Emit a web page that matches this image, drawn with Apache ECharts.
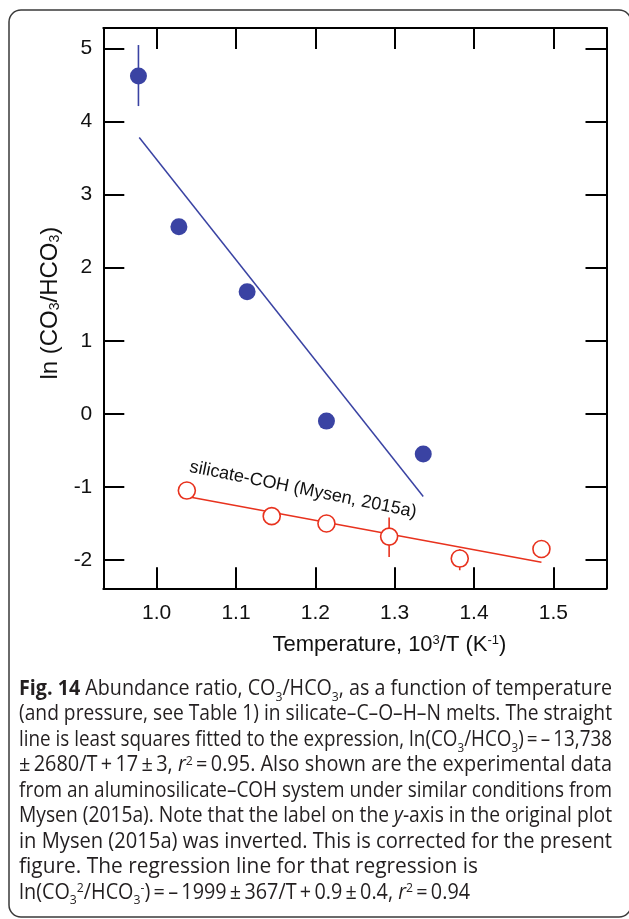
<!DOCTYPE html>
<html>
<head>
<meta charset="utf-8">
<script src="https://cdn.jsdelivr.net/npm/echarts@6/dist/echarts.min.js"></script>
<style>
  html, body { margin: 0; padding: 0; background: #fff; }
  #chart { width: 629px; height: 919px; }
</style>
</head>
<body>
<div id="chart"></div>
<script>
// silicate–C–O–H–N melts: ln(CO3/HCO3) against 10^3/T
const meltX = [0.977, 1.028, 1.114, 1.214, 1.336];
const meltY = [4.62, 2.56, 1.67, -0.10, -0.55];
const meltErrX = [0.977];
const meltErrLow = [4.21];
const meltErrHigh = [5.045];
const meltFitX = [0.978, 1.336];
const meltFitY = [3.78, -1.13];

// aluminosilicate–COH (Mysen, 2015a)
const cohX = [1.038, 1.145, 1.214, 1.293, 1.382, 1.485];
const cohY = [-1.05, -1.40, -1.50, -1.68, -1.98, -1.85];
const cohErrX = [1.293, 1.382];
const cohErrLow = [-1.96, -2.14];
const cohErrHigh = [-1.42, -1.85];
const cohFitX = [1.038, 1.485];
const cohFitY = [-1.13, -2.03];

// axis ranges and tick labels
const xRange = [0.9327, 1.567];
const yRange = [-2.387, 5.278];
const xTicks = [1.0, 1.1, 1.2, 1.3, 1.4, 1.5];
const yTicks = [-2, -1, 0, 1, 2, 3, 4, 5];

// caption: [text, justified, width of a ragged line]
const captionLines = [
  ['{b|Fig. 14} Abundance ratio, CO{d|3}/HCO{d|3}, as a function of temperature', true],
  ['(and pressure, see Table 1) in silicate–C–O–H–N melts. The straight', true],
  ['line is least squares fitted to the expression, ln(CO{d|3}/HCO{d|3})\u2009=\u2009–\u200913,738', true],
  ['±\u20092680/T\u2009+\u200917\u2009±\u20093, {i|r}{u|2}\u2009=\u20090.95. Also shown are the experimental data', true],
  ['from an aluminosilicate–COH system under similar conditions from', true],
  ['Mysen (2015a). Note that the label on the {i|y}-axis in the original plot', true],
  ['in Mysen (2015a) was inverted. This is corrected for the present', true],
  ['figure. The regression line for that regression is', false, 459],
  ['ln(CO{d|3}{u|2}/HCO{d|3}{u|-})\u2009=\u2009–\u20091999\u2009±\u2009367/T\u2009+\u20090.9\u2009±\u20090.4, {i|r}{u|2}\u2009=\u20090.94', false, 451]
];

const BLUE = '#3A43A3';
const RED = '#E8321E';
const AXIS_FONT = '"Liberation Sans", Arial, sans-serif';
const CAP_FONT = '"Open Sans", "Noto Sans", sans-serif';

const chart = echarts.init(document.getElementById('chart'), null, { renderer: 'canvas' });

function pairs(xs, ys) { return xs.map((x, i) => [x, ys[i]]); }

function errBars(xs, lo, hi) {
  return xs.map((x, i) => [x, lo[i], hi[i]]);
}

function errRender(color) {
  return function (params, api) {
    const a = api.coord([api.value(0), api.value(1)]);
    const b = api.coord([api.value(0), api.value(2)]);
    return {
      type: 'line',
      shape: { x1: a[0], y1: a[1], x2: b[0], y2: b[1] },
      style: { stroke: color, lineWidth: 1.6 }
    };
  };
}

function axisBase(extra) {
  return Object.assign({
    type: 'value',
    splitLine: { show: false },
    axisLine: { show: true, onZero: false, lineStyle: { color: '#000', width: 2 } },
  }, extra);
}

const tickStyle = { show: true, inside: true, length: 21, lineStyle: { color: '#000', width: 2 } };

const option = {
  backgroundColor: '#fff',
  animation: false,
  grid: { left: 103.3, right: 22.5, top: 28, bottom: 330.7, containLabel: false },
  xAxis: [
    axisBase({
      position: 'bottom', min: xRange[0], max: xRange[1],
      axisTick: Object.assign({ customValues: xTicks }, tickStyle),
      axisLabel: {
        customValues: xTicks, formatter: v => v.toFixed(1),
        fontSize: 21, color: '#111', fontFamily: AXIS_FONT, margin: 14
      },
      name: 'Temperature, 10{sup|3}/T (K{sup|-1})',
      nameLocation: 'middle', nameGap: 46,
      nameTextStyle: {
        fontSize: 22, color: '#111', fontFamily: AXIS_FONT, padding: [0, 0, 0, 69],
        rich: { sup: { fontSize: 13, fontFamily: AXIS_FONT, verticalAlign: 'top', color: '#111' } }
      }
    }),
    axisBase({
      position: 'top', min: xRange[0], max: xRange[1],
      axisTick: Object.assign({ customValues: xTicks }, tickStyle),
      axisLabel: { show: false }
    })
  ],
  yAxis: [
    axisBase({
      position: 'left', min: yRange[0], max: yRange[1],
      axisTick: Object.assign({ customValues: yTicks }, tickStyle),
      axisLabel: {
        customValues: yTicks, formatter: v => String(Math.round(v)),
        fontSize: 21, color: '#111', fontFamily: AXIS_FONT, margin: 11
      },
      name: 'ln (CO{sub|3}/HCO{sub|3})',
      nameLocation: 'middle', nameGap: 41,
      nameTextStyle: {
        fontSize: 24, color: '#111', fontFamily: AXIS_FONT, padding: [0, 0, 0, 10],
        rich: { sub: { fontSize: 14, fontFamily: AXIS_FONT, verticalAlign: 'bottom', color: '#111' } }
      }
    }),
    axisBase({
      position: 'right', min: yRange[0], max: yRange[1],
      axisTick: Object.assign({ customValues: yTicks }, tickStyle),
      axisLabel: { show: false }
    })
  ],
  series: [
    {
      type: 'line', data: pairs(meltFitX, meltFitY), symbol: 'none',
      lineStyle: { color: BLUE, width: 1.5 }, z: 2, silent: true
    },
    {
      type: 'custom', data: errBars(meltErrX, meltErrLow, meltErrHigh),
      renderItem: errRender(BLUE), z: 2, silent: true
    },
    {
      type: 'scatter', data: pairs(meltX, meltY), symbol: 'circle', symbolSize: 17,
      itemStyle: { color: BLUE, opacity: 1 }, z: 4
    },
    {
      type: 'line', data: pairs(cohFitX, cohFitY), symbol: 'none',
      lineStyle: { color: RED, width: 1.5 }, z: 2, silent: true
    },
    {
      type: 'custom', data: errBars(cohErrX, cohErrLow, cohErrHigh),
      renderItem: errRender(RED), z: 2, silent: true
    },
    {
      type: 'scatter', data: pairs(cohX, cohY), symbol: 'circle', symbolSize: 17,
      itemStyle: { color: '#fff', borderColor: RED, borderWidth: 1.6, opacity: 1 }, z: 4
    }
  ]
};

chart.setOption(option);

// ---- caption block, laid out word by word so the paragraph can be justified ----
const CAP_SIZE = 21;
const CAP_LEFT = 19;
const CAP_RIGHT = 612;
const CAP_BASE = 699.5;
const CAP_STEP = 25.45;
const CAP_COLOR = '#231f20';

const measureCtx = document.createElement('canvas').getContext('2d');

function runFont(kind) {
  const size = (kind === 'd' || kind === 'u') ? Math.round(CAP_SIZE * 0.62) : CAP_SIZE;
  const weight = kind === 'b' ? 'bold' : 'normal';
  const style = kind === 'i' ? 'italic' : 'normal';
  return { size, weight, style, css: `${style} ${weight} ${size}px ${CAP_FONT}` };
}

function parseLine(src) {
  const runs = [];
  const re = /\{(\w)\|([^}]*)\}|([^{]+)/g;
  let m;
  while ((m = re.exec(src))) {
    if (m[3] !== undefined) runs.push({ kind: 'n', text: m[3] });
    else runs.push({ kind: m[1], text: m[2] });
  }
  // split into words on ordinary spaces
  const words = [[]];
  runs.forEach(r => {
    const parts = r.text.split(' ');
    parts.forEach((p, i) => {
      if (i > 0) words.push([]);
      if (p.length) words[words.length - 1].push({ kind: r.kind, text: p });
    });
  });
  return words.filter(w => w.length);
}

function widthOf(run) {
  measureCtx.font = runFont(run.kind).css;
  return measureCtx.measureText(run.text).width;
}

measureCtx.font = runFont('n').css;
const spaceW = measureCtx.measureText(' ').width;

const parsed = captionLines.map(([src, justify, ragWidth]) => {
  const words = parseLine(src);
  words.forEach(w => { w.forEach(r => { r.w = widthOf(r); }); w.w = w.reduce((s, r) => s + r.w, 0); });
  const natural = words.reduce((s, w) => s + w.w, 0) + spaceW * (words.length - 1);
  const target = justify ? CAP_RIGHT - CAP_LEFT : ragWidth;
  return { words, sx: target / natural };
});

const captionGraphics = [];
parsed.forEach((line, li) => {
  const base = CAP_BASE + li * CAP_STEP;
  const sx = line.sx;
  const gap = spaceW * sx;
  let x = CAP_LEFT;
  line.words.forEach(w => {
    w.forEach(r => {
      const f = runFont(r.kind);
      let y = base;
      if (r.kind === 'd') y = base + 4;
      if (r.kind === 'u') y = base - 8;
      captionGraphics.push({
        type: 'text', x: x, y: y, scaleX: sx, silent: true,
        style: {
          text: r.text, fill: CAP_COLOR,
          fontSize: f.size, fontWeight: f.weight, fontStyle: f.style, fontFamily: CAP_FONT,
          verticalAlign: 'bottom', align: 'left'
        }
      });
      x += r.w * sx;
    });
    x += gap;
  });
});

// series label for the aluminosilicate data, set along its trend
const labelAt = chart.convertToPixel({ xAxisIndex: 0, yAxisIndex: 0 }, [1.0395, -0.845]);

chart.setOption({
  graphic: [
    {
      type: 'rect', silent: true, z: -1,
      shape: { x: 9, y: 10, width: 622, height: 907, r: 12 },
      style: { fill: 'none', stroke: '#3a3a3a', lineWidth: 1.5 }
    },
    {
      type: 'text', x: labelAt[0], y: labelAt[1], rotation: -0.199, silent: true,
      style: {
        text: 'silicate-COH (Mysen, 2015a)', fill: '#111',
        fontSize: 18, fontFamily: AXIS_FONT, verticalAlign: 'bottom', align: 'left'
      }
    }
  ].concat(captionGraphics.map(g => Object.assign({ z: 10 }, g)))
});
</script>
</body>
</html>
